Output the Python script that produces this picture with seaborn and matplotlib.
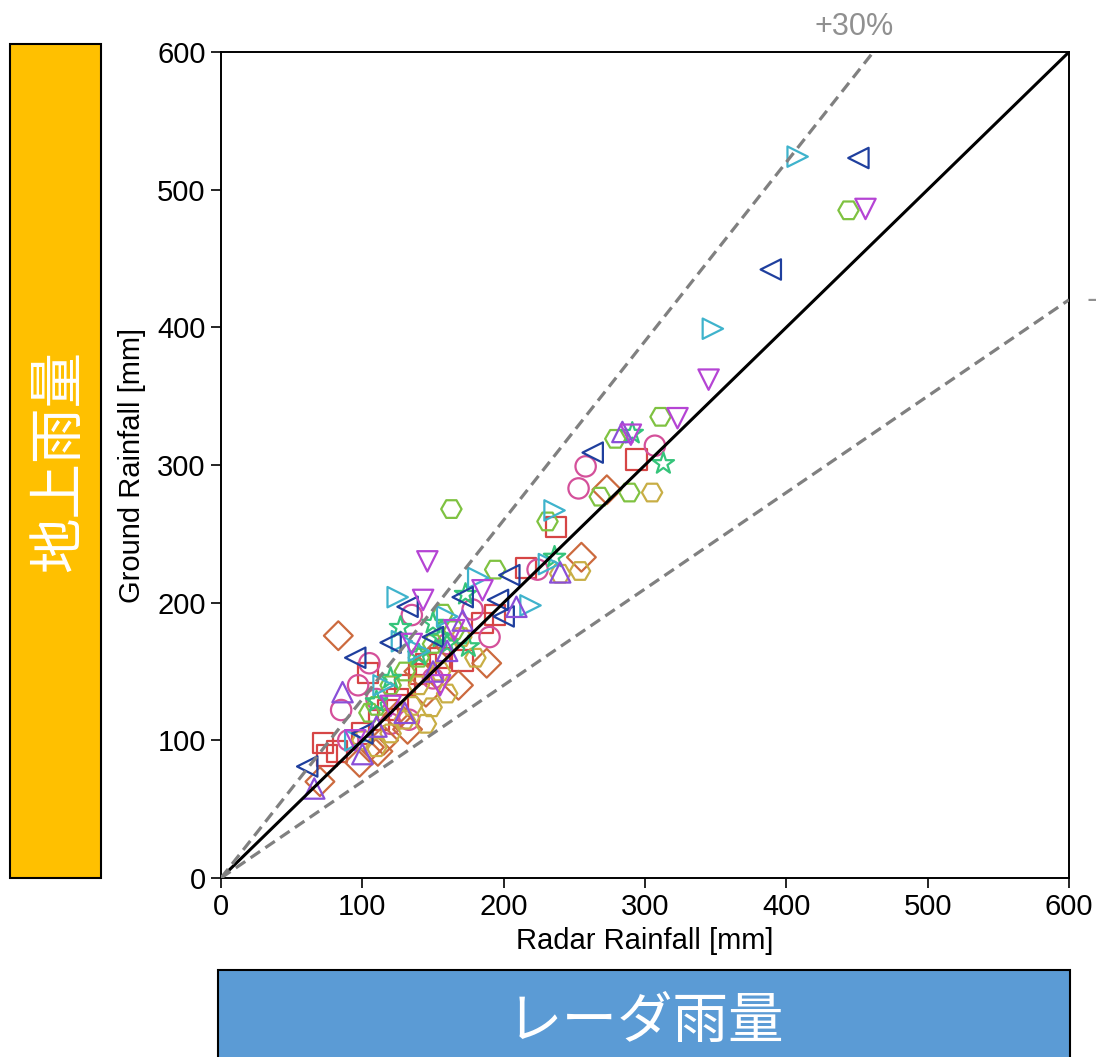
import matplotlib
matplotlib.use("Agg")
import matplotlib.pyplot as plt
from matplotlib.patches import Rectangle
import seaborn as sns

# (radar, ground) pairs per group
sq_x = [72, 75, 82, 100, 112, 125, 140, 155, 171, 194, 185, 216, 237, 294, 104, 130, 118, 145]
sq_y = [98, 89, 92, 105, 115, 130, 148, 160, 158, 191, 185, 225, 255, 304, 149, 140, 122, 155]

ci_x = [85, 97, 105, 135, 190, 224, 253, 258, 307, 110, 120, 150, 133, 160, 90, 178]
ci_y = [122, 140, 156, 191, 175, 224, 283, 299, 314, 130, 112, 145, 115, 170, 100, 195]

di_x = [70, 83, 98, 111, 168, 188, 273, 255, 125, 140, 132, 115, 150, 105, 145]
di_y = [70, 176, 84, 92, 140, 156, 282, 233, 118, 150, 108, 100, 160, 95, 135]

hy_x = [149, 160, 254, 240, 305, 130, 120, 140, 155, 170, 110, 135, 100, 180, 145]
hy_y = [124, 134, 223, 221, 280, 115, 105, 140, 150, 175, 95, 125, 100, 160, 112]

hg_x = [163, 194, 231, 268, 289, 279, 311, 444, 157, 110, 120, 140, 150, 130, 165, 105]
hg_y = [268, 224, 259, 277, 280, 319, 335, 485, 192, 125, 140, 160, 170, 150, 180, 120]

st_x = [127, 173, 291, 313, 236, 160, 140, 150, 175, 120, 155, 110]
st_y = [182, 206, 323, 301, 233, 170, 162, 185, 168, 145, 175, 128]

tr_x = [408, 348, 236, 182, 125, 219, 232, 115, 140, 95, 160, 128]
tr_y = [524, 399, 267, 218, 204, 198, 228, 140, 165, 100, 190, 172]

tl_x = [451, 389, 263, 204, 171, 132, 196, 200, 120, 95, 61, 100, 150]
tl_y = [523, 442, 309, 220, 204, 197, 202, 190, 171, 160, 81, 105, 175]

tu_x = [66, 86, 171, 209, 284, 240, 150, 130, 110, 160, 100]
tu_y = [65, 135, 187, 197, 324, 222, 150, 120, 110, 165, 90]

td_x = [456, 345, 323, 146, 143, 185, 290, 95, 120, 155, 135, 165]
td_y = [486, 362, 334, 230, 202, 209, 322, 100, 125, 140, 170, 180]

groups = [
    (sq_x, sq_y, "s", "#d64545"),
    (ci_x, ci_y, "o", "#d4509a"),
    (di_x, di_y, "D", "#cc6a3e"),
    (hy_x, hy_y, "H", "#c8ae45"),
    (hg_x, hg_y, "H", "#7fc241"),
    (st_x, st_y, "*", "#35c47a"),
    (tr_x, tr_y, ">", "#3fb3cc"),
    (tl_x, tl_y, "<", "#1f3f9e"),
    (tu_x, tu_y, "^", "#8a4fd8"),
    (td_x, td_y, "v", "#b544d4"),
]

ratios = [1.0, 1.3, 0.7]
lim = [0, 600]
ticks = [0, 100, 200, 300, 400, 500, 600]

sns.set_theme(style="ticks")
plt.rcParams['font.family'] = ['Liberation Sans', 'Noto Sans CJK JP', 'DejaVu Sans']

W, H = 1096, 1057
fig = plt.figure(figsize=(W / 100, H / 100), dpi=100)
ax = fig.add_axes([221 / W, 1 - 878 / H, 848 / W, 826 / H])

for gx, gy, m, col in groups:
    size = 260 if m == "*" else 215
    sns.scatterplot(x=gx, y=gy, marker=m, s=size, color=col, facecolor="none",
                    edgecolor=col, linewidth=1.6, ax=ax, zorder=2)

# 1:1 line and +/-30% lines
for r in ratios:
    if r == 1.0:
        ax.plot(lim, [v * r for v in lim], color="black", lw=2.2, zorder=3)
    else:
        ax.plot(lim, [v * r for v in lim], color="#808080", lw=2.3,
                ls=(0, (3.6, 2.0)), zorder=3)

ax.set_xlim(lim)
ax.set_ylim(lim)
ax.set_xticks(ticks)
ax.set_yticks(ticks)
ax.tick_params(axis="both", labelsize=21, length=7, width=1.2, color="black",
               labelcolor="black", direction="out", pad=4)
for sp in ax.spines.values():
    sp.set_visible(True)
    sp.set_color("black")
    sp.set_linewidth(1.4)
ax.set_xlabel("Radar Rainfall [mm]", fontsize=21, color="black", labelpad=4)
ax.set_ylabel("Ground Rainfall [mm]", fontsize=21, color="black", labelpad=8)

# line labels (the -30% one runs off the right edge, as in the original)
fig.text(854 / W, 1 - 27 / H, "+30%", fontsize=22, color="#909090",
         ha="center", va="center")
fig.text(1086 / W, 1 - 302 / H, "\u221230%", fontsize=22, color="#909090",
         ha="left", va="center")

# Japanese caption boxes
fig.add_artist(Rectangle((10 / W, 1 - 878 / H), 91 / W, 834 / H,
                         transform=fig.transFigure, facecolor="#FFC000",
                         edgecolor="black", lw=1.5))
fig.text(59 / W, 1 - 461 / H, "地上雨量", rotation=90, fontsize=40, color="white",
         ha="center", va="center", family=['Noto Sans CJK JP', 'DejaVu Sans'])

fig.add_artist(Rectangle((218 / W, -0.01), 852 / W, (1057 - 970) / H + 0.01,
                         transform=fig.transFigure, facecolor="#5B9BD5",
                         edgecolor="black", lw=1.5))
fig.text(645 / W, 1 - 1022 / H, "レーダ雨量", fontsize=40, color="white",
         ha="center", va="center", family=['Noto Sans CJK JP', 'DejaVu Sans'])

fig.savefig("out.png", dpi=100)
